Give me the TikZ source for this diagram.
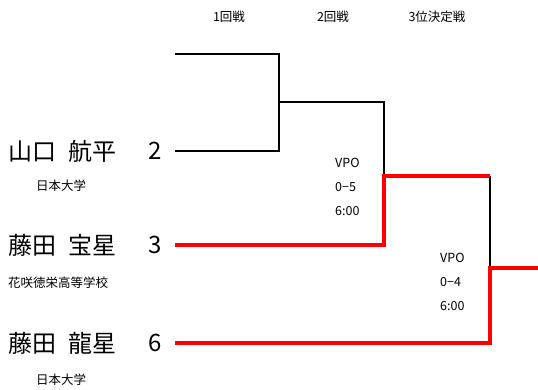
\documentclass[tikz,border=0pt]{standalone}
\usepackage{fontspec}
\setmainfont{Noto Sans CJK JP}
\usetikzlibrary{positioning}
\tikzstyle{line} = [line width=1.8pt, black]
\tikzstyle{win} = [line width=4pt, red]
\tikzstyle{big} = [font=\fontsize{24}{26}\selectfont, inner sep=0pt]
\tikzstyle{small} = [font=\fontsize{12.5}{14}\selectfont, inner sep=0pt]
\newcommand{\gap}{\hspace{0.5em}}

\begin{document}
\begin{tikzpicture}[x=1pt, y=-1pt]
	\useasboundingbox (0,0) rectangle (538,390);
	% headings
	\node[small] (r1) at (229,17) {1回戦};
	\node[small] (r2) at (333,17) {2回戦};
	\node[small] (r3) at (437,17) {3位決定戦};
	% players
	\node[big, anchor=west] (n2) at (8,151) {山口\gap 航平};
	\node[big] (s2) at (155,151) {2};
	\node[small] (c2) at (61,186) {日本大学};
	\node[big, anchor=west] (n3) at (8,245) {藤田\gap 宝星};
	\node[big] (s3) at (155,245) {3};
	\node[small, anchor=west] (c3) at (8,283) {花咲徳栄高等学校};
	\node[big, anchor=west] (n6) at (8,343) {藤田\gap 龍星};
	\node[big] (s6) at (155,343) {6};
	\node[small] (c6) at (61,380) {日本大学};
	% bracket points
	\coordinate (p1) at (175,54);
	\coordinate (p2) at (175,151);
	\coordinate (p3) at (175,245);
	\coordinate (p6) at (175,343);
	\coordinate (j1) at (279,102);
	\coordinate (j2) at (384,176);
	\coordinate (w2) at (490,176);
	\coordinate (j3) at (490,268);
	\coordinate (w3) at (538,268);
	\draw[line] (p1) -| (j1) |- (p2);
	\draw[line] (j1) -| (j2);
	\draw[line] (w2) -- (j3);
	\draw[win] (p3) -| (j2) -- (w2);
	\draw[win] (p6) -| (j3) -- (w3);
	% results
	\node[small, anchor=west] (v1) at (335,163) {VPO};
	\node[small, anchor=west] (v2) at (335,187) {0−5};
	\node[small, anchor=west] (v3) at (335,211) {6:00};
	\node[small, anchor=west] (u1) at (440,258) {VPO};
	\node[small, anchor=west] (u2) at (440,282) {0−4};
	\node[small, anchor=west] (u3) at (440,306) {6:00};
\end{tikzpicture}
\end{document}
